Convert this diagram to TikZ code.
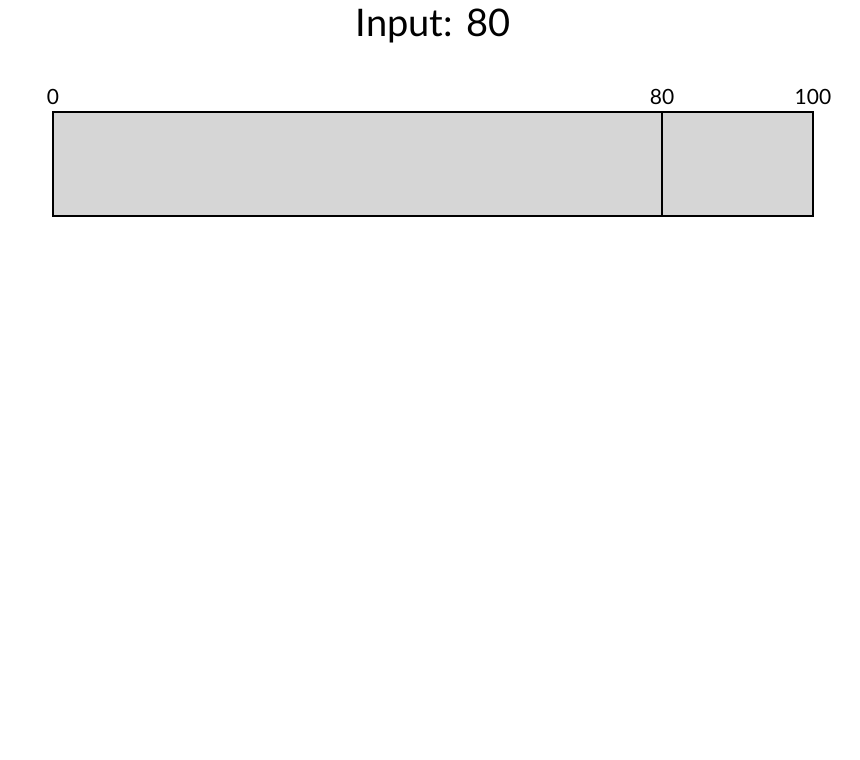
\documentclass[tikz,border=0pt]{standalone}
\usepackage{fontspec}
\setmainfont{Lato}
\definecolor{barfill}{HTML}{D6D6D6}
\begin{document}
\begin{tikzpicture}[x=1pt,y=-1pt,
  barbox/.style={draw=black,fill=barfill,line width=1.5pt},
  divider/.style={draw=black,line width=2.8pt},
  ticklabel/.style={font=\fontsize{21}{24}\selectfont,anchor=base,inner sep=0pt},
  titletext/.style={font=\fontsize{38}{44}\selectfont,anchor=base,inner sep=0pt}]
\useasboundingbox (0,0) rectangle (860,760);
\node[titletext] (title) at (433,37) {Input: 80};
\path[barbox] (53,112) rectangle (813,216);
\coordinate (dtop) at (662,112);
\coordinate (dbot) at (662,216);
\draw[divider] (dtop) -- (dbot);
\node[ticklabel] (l0) at (53,104) {0};
\node[ticklabel] (l80) at (662,104) {80};
\node[ticklabel] (l100) at (813,104) {100};
\end{tikzpicture}
\end{document}
